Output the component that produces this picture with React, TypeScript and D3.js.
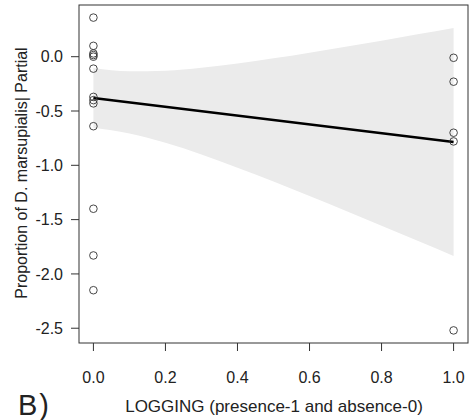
import React from "react";
import * as d3 from "d3";

// Partial residuals: logging absent (0) and present (1)
const absentValues = [0.36, 0.10, 0.03, 0.015, 0.0, -0.11, -0.37, -0.40, -0.43, -0.64, -1.40, -1.83, -2.15];
const presentValues = [-0.01, -0.23, -0.70, -0.78, -2.52];

// Fitted line end points
const fitX = [0, 1];
const fitY = [-0.38, -0.785];

// Confidence band
const bandX = [0, 0.1, 0.2, 0.3, 0.4, 0.5, 0.6, 0.7, 0.8, 0.9, 1.0];
const bandUpper = [-0.105, -0.134, -0.129, -0.102, -0.062, -0.015, 0.037, 0.092, 0.148, 0.206, 0.265];
const bandLower = [-0.655, -0.708, -0.793, -0.901, -1.022, -1.15, -1.283, -1.419, -1.556, -1.695, -1.835];

const xTicks = [0, 0.2, 0.4, 0.6, 0.8, 1.0];
const yTicks = [0, -0.5, -1.0, -1.5, -2.0, -2.5];

const W = 470;
const H = 420;
const box = { left: 79, right: 468, top: 5, bottom: 343 };

export default function App() {
  const x = d3.scaleLinear().domain([-0.04, 1.04]).range([box.left, box.right]);
  const y = d3.scaleLinear().domain([-2.636, 0.476]).range([box.bottom, box.top]);

  const band = bandX.map((bx, i) => ({ x: bx, lo: bandLower[i], hi: bandUpper[i] }));
  const area = d3
    .area<{ x: number; lo: number; hi: number }>()
    .x((d) => x(d.x))
    .y0((d) => y(d.lo))
    .y1((d) => y(d.hi))
    .curve(d3.curveMonotoneX);
  const line = d3
    .line<number>()
    .x((_, i) => x(fitX[i]))
    .y((d) => y(d));

  const font = "'Liberation Sans', Arial, sans-serif";
  const ink = "#222";

  return (
    <svg
      width={W}
      height={H}
      style={{ position: "absolute", left: 0, top: 0, background: "#fff" }}
      fontFamily={font}
    >
      <path d={area(band) ?? ""} fill="#ebebeb" />
      <path d={line(fitY) ?? ""} fill="none" stroke="#000" strokeWidth={2.6} />
      {absentValues.map((v, i) => (
        <circle key={"a" + i} cx={x(0)} cy={y(v)} r={3.8} fill="none" stroke="#333" strokeWidth={0.9} />
      ))}
      {presentValues.map((v, i) => (
        <circle key={"p" + i} cx={x(1)} cy={y(v)} r={3.8} fill="none" stroke="#333" strokeWidth={0.9} />
      ))}
      <rect
        x={box.left}
        y={box.top}
        width={box.right - box.left}
        height={box.bottom - box.top}
        fill="none"
        stroke="#333"
        strokeWidth={1}
      />
      {/* x axis */}
      {xTicks.map((t) => (
        <g key={"x" + t}>
          <line x1={x(t)} x2={x(t)} y1={box.bottom} y2={box.bottom + 8} stroke="#333" />
          <text x={x(t)} y={383} textAnchor="middle" fontSize={16} fill={ink}>
            {t.toFixed(1)}
          </text>
        </g>
      ))}
      {/* y axis */}
      {yTicks.map((t) => (
        <g key={"y" + t}>
          <line x1={box.left - 8} x2={box.left} y1={y(t)} y2={y(t)} stroke="#333" />
          <text x={63} y={y(t)} dy="0.36em" textAnchor="end" fontSize={16} fill={ink}>
            {t.toFixed(1)}
          </text>
        </g>
      ))}
      <text x={274} y={412} textAnchor="middle" fontSize={17} fill={ink}>
        LOGGING (presence-1 and absence-0)
      </text>
      <text
        transform={`translate(27,173) rotate(-90)`}
        textAnchor="middle"
        fontSize={16}
        fill={ink}
      >
        Proportion of D. marsupialis| Partial
      </text>
      <text x={18} y={415} fontSize={29} fill={ink} letterSpacing={2}>
        B)
      </text>
    </svg>
  );
}
